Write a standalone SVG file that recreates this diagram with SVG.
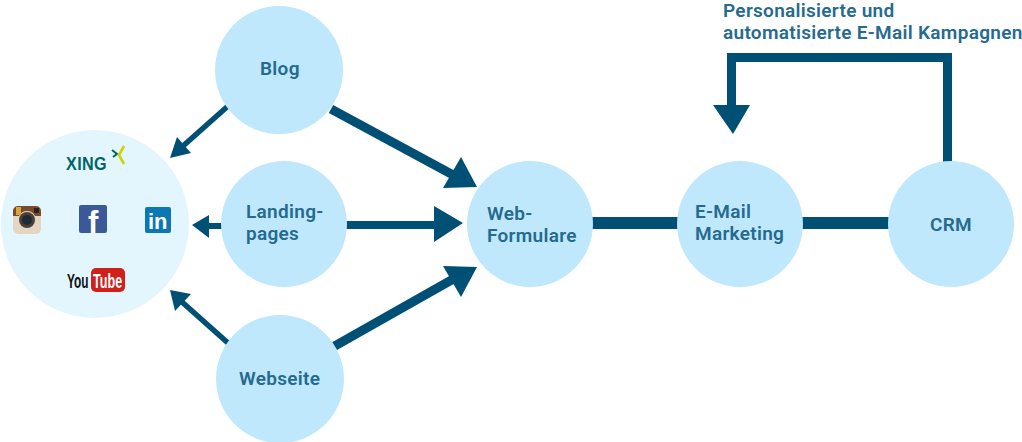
<svg xmlns="http://www.w3.org/2000/svg" width="1022" height="442" viewBox="0 0 1022 442">
<style>
.n{fill:#bfe8fd}
.t,.h{font-family:Roboto,"Noto Sans",sans-serif;font-weight:600;fill:#256a8f;font-size:19px;letter-spacing:.3px}
.c{fill:none;stroke:#004f74}
.a{fill:#004f74}
.i{font-family:"Liberation Sans",sans-serif;font-weight:700}
</style>
<g id="connectors">
<path class="c" stroke-width="12" d="M590 223H680M800 223H890"/>
<path class="c" stroke-width="9" d="M947.5 162V57.5H731.5V106"/>
<polygon class="a" points="713,105 750,105 733,134"/>
<path class="c" stroke-width="9" d="M331 109L455 176"/>
<polygon class="a" points="461,157 477,187 443,188"/>
<path class="c" stroke-width="8" d="M345 225H436"/>
<polygon class="a" points="434,206 463,223 434,242"/>
<path class="c" stroke-width="9" d="M333 347L455 278"/>
<polygon class="a" points="443,266 477,267 461,297"/>
<path class="c" stroke-width="5.5" d="M228 106L183 146"/>
<polygon class="a" points="177,137 170,158 191,153"/>
<path class="c" stroke-width="6" d="M224 226H205"/>
<polygon class="a" points="209,215 192,225 209,238"/>
<path class="c" stroke-width="5.5" d="M228 343L182 302"/>
<polygon class="a" points="191,294 170,290 175,311"/>
</g>
<g id="social">
<circle cx="95" cy="224" r="94" fill="#e3f6fe"/>
<g id="xing">
<text class="i" transform="translate(66 170) scale(.95 1.1)" font-size="17" letter-spacing=".4" fill="#006567">XING</text>
<path d="M112 150L117 154L113 157" fill="none" stroke="#006567" stroke-width="2"/>
<path d="M124 146L119 155L124 164" fill="none" stroke="#cfd400" stroke-width="2.6"/>
</g>
<g id="instagram">
<rect x="13" y="206" width="28" height="28" rx="5" fill="#e4d6c2"/>
<path d="M13 216V211a5 5 0 0 1 5-5H36a5 5 0 0 1 5 5V216H35A9 9 0 0 0 19 216Z" fill="#7a4a2e"/>
<rect x="16" y="207" width="5" height="8" fill="#d9a63a"/>
<circle cx="27" cy="220" r="8" fill="#4a4038"/>
<circle cx="27" cy="220" r="5" fill="#1d2a38"/>
<rect x="34" y="208" width="5" height="5" fill="#2b2320"/>
</g>
<g id="facebook">
<rect x="79" y="205" width="28" height="28" rx="2" fill="#3b5998"/>
<text class="i" x="88" y="233" font-size="31" fill="#fff">f</text>
</g>
<g id="linkedin">
<rect x="145" y="207" width="26" height="26" rx="2" fill="#0b77b5"/>
<text class="i" x="148" y="229" font-size="22" fill="#fff">in</text>
</g>
<g id="youtube">
<rect x="91" y="268" width="34" height="24" rx="5" fill="#d0201c"/>
<text class="i" transform="translate(67 288) scale(.66 1.1)" font-size="18" fill="#111">You</text>
<text class="i" transform="translate(93 288) scale(.7 1.1)" font-size="18" fill="#fff">Tube</text>
</g>
</g>
<g id="blog"><circle class="n" cx="279" cy="70" r="64"/><text class="t" x="260" y="75">Blog</text></g>
<g id="landing"><circle class="n" cx="284" cy="224" r="63"/><text class="t" x="246" y="218">Landing-</text><text class="t" x="246" y="240">pages</text></g>
<g id="webseite"><circle class="n" cx="280" cy="379" r="64"/><text class="t" x="239" y="385">Webseite</text></g>
<g id="formulare"><circle class="n" cx="530" cy="224" r="63"/><text class="t" x="487" y="220">Web-</text><text class="t" x="487" y="242">Formulare</text></g>
<g id="email"><circle class="n" cx="740" cy="224" r="63"/><text class="t" x="695" y="218">E-Mail</text><text class="t" x="695" y="240">Marketing</text></g>
<g id="crm"><circle class="n" cx="951" cy="224" r="63"/><text class="t" x="930" y="231">CRM</text></g>
<g id="label"><text class="h" x="723" y="17">Personalisierte und</text><text class="h" x="723" y="39">automatisierte E-Mail Kampagnen</text></g>
</svg>
